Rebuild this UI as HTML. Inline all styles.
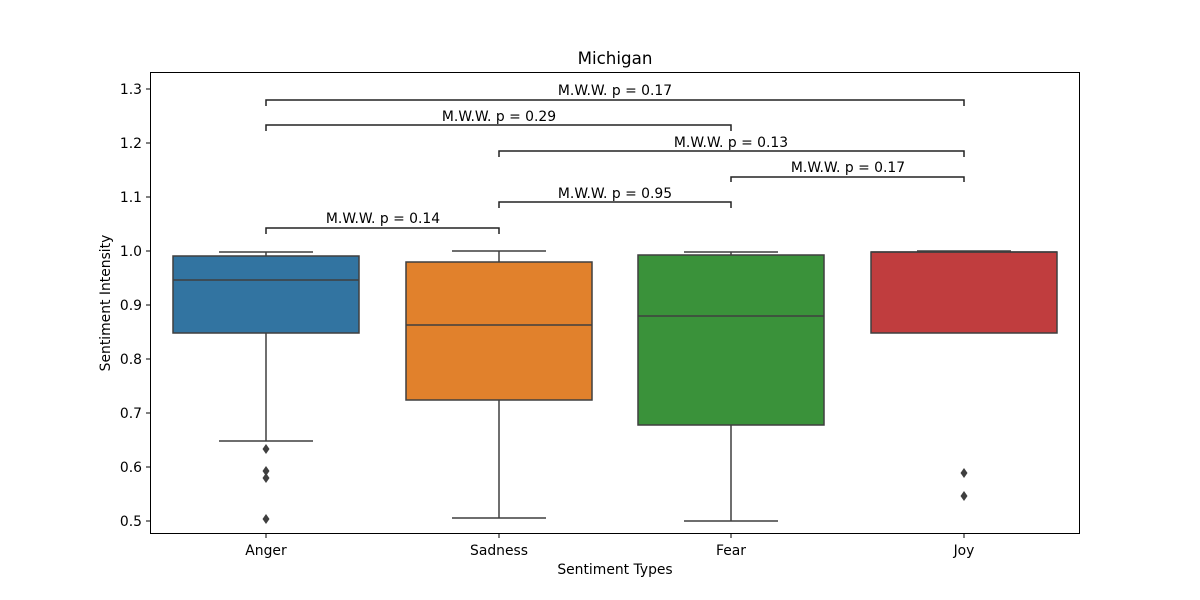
<!DOCTYPE html>
<html><head><meta charset="utf-8"><style>
html,body{margin:0;padding:0;background:#fff;}
svg{display:block;}
text{font-family:"DejaVu Sans","Liberation Sans",sans-serif;font-size:13.9px;fill:#000;}
</style></head><body>
<svg width="1200" height="600" viewBox="0 0 1200 600" xmlns="http://www.w3.org/2000/svg">
<rect x="0" y="0" width="1200" height="600" fill="#fff"/>
<g stroke="#3f3f3f" stroke-width="1.5" fill="none">
<line x1="266" y1="252" x2="266" y2="256"/><line x1="219" y1="252" x2="313" y2="252"/>
<line x1="266" y1="333" x2="266" y2="441"/><line x1="219" y1="441" x2="313" y2="441"/>
<rect x="173" y="256" width="186" height="77" fill="#3274a1"/>
<line x1="173" y1="280" x2="359" y2="280"/>
<line x1="499" y1="251" x2="499" y2="262"/><line x1="452" y1="251" x2="546" y2="251"/>
<line x1="499" y1="400" x2="499" y2="518"/><line x1="452" y1="518" x2="546" y2="518"/>
<rect x="406" y="262" width="186" height="138" fill="#e1812c"/>
<line x1="406" y1="325" x2="592" y2="325"/>
<line x1="731" y1="252" x2="731" y2="255"/><line x1="684" y1="252" x2="778" y2="252"/>
<line x1="731" y1="425" x2="731" y2="521"/><line x1="684" y1="521" x2="778" y2="521"/>
<rect x="638" y="255" width="186" height="170" fill="#3a923a"/>
<line x1="638" y1="316" x2="824" y2="316"/>
<line x1="917" y1="251" x2="1011" y2="251"/>
<rect x="871" y="252" width="186" height="81" fill="#c03d3e"/>
<line x1="871" y1="252" x2="1057" y2="252"/>
</g>
<g fill="#3f3f3f">
<path d="M266 444 l3.5 5 l-3.5 5 l-3.5 -5z"/>
<path d="M266 466 l3.5 5 l-3.5 5 l-3.5 -5z"/>
<path d="M266 473 l3.5 5 l-3.5 5 l-3.5 -5z"/>
<path d="M266 514 l3.5 5 l-3.5 5 l-3.5 -5z"/>
<path d="M964 468 l3.5 5 l-3.5 5 l-3.5 -5z"/>
<path d="M964 491 l3.5 5 l-3.5 5 l-3.5 -5z"/>
</g>
<g stroke="#222" stroke-width="1.5" fill="none">
<path d="M266 234 V228 H499 V234"/>
<path d="M499 208 V202 H731 V208"/>
<path d="M731 182 V177 H964 V182"/>
<path d="M499 157 V151 H964 V157"/>
<path d="M266 131 V125 H731 V131"/>
<path d="M266 106 V100 H964 V106"/>
</g>
<g text-anchor="middle">
<text x="383" y="223">M.W.W. p = 0.14</text>
<text x="615" y="198">M.W.W. p = 0.95</text>
<text x="848" y="172">M.W.W. p = 0.17</text>
<text x="731" y="147">M.W.W. p = 0.13</text>
<text x="499" y="121">M.W.W. p = 0.29</text>
<text x="615" y="95">M.W.W. p = 0.17</text>
</g>
<rect x="150.5" y="72.5" width="929" height="461" fill="none" stroke="#000" stroke-width="1"/>
<g stroke="#000" stroke-width="1">
<line x1="146" y1="89" x2="150" y2="89"/><line x1="146" y1="143" x2="150" y2="143"/>
<line x1="146" y1="197" x2="150" y2="197"/><line x1="146" y1="251" x2="150" y2="251"/>
<line x1="146" y1="305" x2="150" y2="305"/><line x1="146" y1="359" x2="150" y2="359"/>
<line x1="146" y1="413" x2="150" y2="413"/><line x1="146" y1="467" x2="150" y2="467"/>
<line x1="146" y1="521" x2="150" y2="521"/>
<line x1="266" y1="534" x2="266" y2="538"/><line x1="499" y1="534" x2="499" y2="538"/>
<line x1="731" y1="534" x2="731" y2="538"/><line x1="964" y1="534" x2="964" y2="538"/>
</g>
<g text-anchor="end">
<text x="142" y="94">1.3</text><text x="142" y="148">1.2</text><text x="142" y="202">1.1</text>
<text x="142" y="256">1.0</text><text x="142" y="310">0.9</text><text x="142" y="364">0.8</text>
<text x="142" y="418">0.7</text><text x="142" y="472">0.6</text><text x="142" y="526">0.5</text>
</g>
<g text-anchor="middle">
<text x="266" y="555">Anger</text><text x="499" y="555">Sadness</text>
<text x="731" y="555">Fear</text><text x="964" y="555">Joy</text>
<text x="615" y="574">Sentiment Types</text>
<text x="615" y="64" style="font-size:16.7px">Michigan</text>
<text x="0" y="0" transform="translate(110 303) rotate(-90)">Sentiment Intensity</text>
</g>
</svg>
</body></html>
